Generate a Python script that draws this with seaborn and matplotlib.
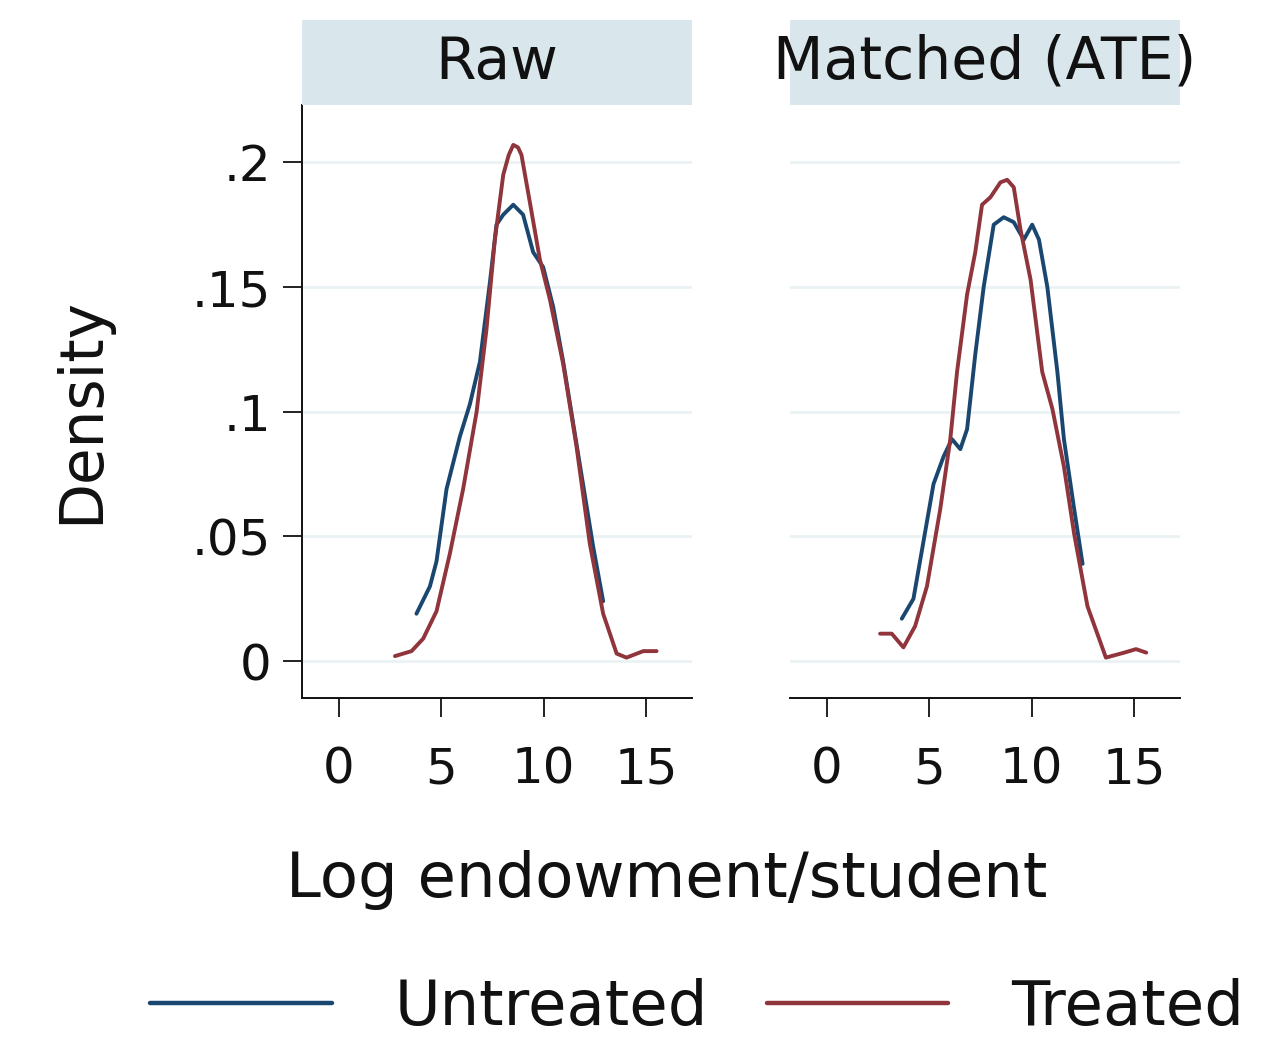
import pandas as pd
import matplotlib
matplotlib.use('Agg')
import matplotlib.pyplot as plt
from matplotlib.lines import Line2D
import seaborn as sns

# Curve points (log endowment/student vs density)
raw_untreated_x = [3.79, 4.45, 4.77, 5.26, 5.91, 6.40, 6.89, 7.38, 7.70, 8.03, 8.52, 9.00, 9.49, 9.98, 10.47, 10.96, 11.61, 12.42, 12.91]
raw_untreated_y = [0.019, 0.030, 0.040, 0.069, 0.090, 0.103, 0.120, 0.152, 0.175, 0.179, 0.183, 0.179, 0.164, 0.158, 0.142, 0.120, 0.087, 0.046, 0.024]

raw_treated_x = [2.74, 3.55, 4.12, 4.77, 5.42, 6.07, 6.73, 7.21, 7.62, 8.03, 8.30, 8.52, 8.75, 8.92, 9.33, 9.82, 10.31, 10.96, 11.61, 12.26, 12.91, 13.57, 14.05, 14.87, 15.52]
raw_treated_y = [0.002, 0.004, 0.009, 0.020, 0.043, 0.069, 0.100, 0.133, 0.169, 0.195, 0.203, 0.207, 0.206, 0.203, 0.184, 0.161, 0.145, 0.119, 0.086, 0.047, 0.019, 0.003, 0.0014, 0.004, 0.004]

ate_untreated_x = [3.66, 4.23, 4.72, 5.21, 5.70, 6.11, 6.52, 6.85, 7.25, 7.66, 8.15, 8.64, 9.13, 9.62, 10.03, 10.36, 10.77, 11.26, 11.58, 12.08, 12.49]
ate_untreated_y = [0.017, 0.025, 0.048, 0.071, 0.082, 0.089, 0.085, 0.093, 0.123, 0.150, 0.175, 0.178, 0.176, 0.169, 0.175, 0.169, 0.150, 0.116, 0.089, 0.061, 0.039]

ate_treated_x = [2.60, 3.17, 3.74, 4.31, 4.89, 5.54, 6.03, 6.36, 6.85, 7.25, 7.58, 7.99, 8.48, 8.81, 9.13, 9.46, 9.95, 10.52, 11.02, 11.58, 12.08, 12.73, 13.63, 14.53, 15.10, 15.60]
ate_treated_y = [0.011, 0.011, 0.0055, 0.014, 0.030, 0.061, 0.089, 0.116, 0.147, 0.164, 0.183, 0.186, 0.192, 0.193, 0.190, 0.173, 0.153, 0.116, 0.101, 0.078, 0.051, 0.022, 0.0014, 0.0034, 0.0048, 0.0034]

panels = ['Raw', 'Matched (ATE)']
groups = ['Untreated', 'Treated']
y_ticks = [0, 0.05, 0.1, 0.15, 0.2]
y_labels = ['0', '.05', '.1', '.15', '.2']
x_ticks = [0, 5, 10, 15]

def frame(panel, group, xs, ys):
    return pd.DataFrame({'panel': panel, 'group': group, 'x': xs, 'y': ys})

df = pd.concat([
    frame('Raw', 'Untreated', raw_untreated_x, raw_untreated_y),
    frame('Raw', 'Treated', raw_treated_x, raw_treated_y),
    frame('Matched (ATE)', 'Untreated', ate_untreated_x, ate_untreated_y),
    frame('Matched (ATE)', 'Treated', ate_treated_x, ate_treated_y),
])

colors = {'Untreated': '#1a476f', 'Treated': '#90353b'}
grid_col = '#eaf2f3'
strip_col = '#d9e6eb'
ink = '#111111'

sns.set_style('white')
plt.rcParams['font.family'] = ['DejaVu Sans']
plt.rcParams['text.color'] = ink

fig = plt.figure(figsize=(12.72, 10.47), dpi=100)
W, H = 1272, 1047
lefts = [302, 790]
pw = 390
top_px, bot_px = 105, 698

for i, panel in enumerate(panels):
    x0 = lefts[i]
    ax = fig.add_axes([x0 / W, 1 - bot_px / H, pw / W, (bot_px - top_px) / H])
    sub = df[df['panel'] == panel]
    sns.lineplot(data=sub, x='x', y='y', hue='group', palette=colors,
                 hue_order=groups, estimator=None, sort=True, lw=2.8,
                 legend=False, ax=ax)
    ax.set_xlim(-1.8, 17.25)
    ax.set_ylim(-0.0148, 0.223)
    for t in y_ticks:
        ax.axhline(t, color=grid_col, lw=2, zorder=0)
    ax.set_xticks(x_ticks)
    ax.set_xticklabels([str(t) for t in x_ticks])
    ax.set_yticks(y_ticks)
    ax.tick_params(axis='x', bottom=True, length=14, width=1.3, pad=20,
                   labelsize=36, color=ink, labelcolor=ink)
    ax.tick_params(axis='y', left=True, length=14, width=1.3, pad=8,
                   labelsize=36, color=ink, labelcolor=ink)
    ax.set_xlabel('')
    ax.set_ylabel('')
    for s in ['top', 'right']:
        ax.spines[s].set_visible(False)
    ax.spines['bottom'].set_linewidth(1.4)
    ax.spines['bottom'].set_color(ink)
    if i == 0:
        ax.set_yticklabels(y_labels)
        ax.spines['left'].set_linewidth(1.4)
        ax.spines['left'].set_color(ink)
    else:
        ax.spines['left'].set_visible(False)
        ax.tick_params(axis='y', left=False, labelleft=False)
    # strip header
    sax = fig.add_axes([x0 / W, 1 - 105 / H, pw / W, 85 / H])
    sax.set_facecolor(strip_col)
    sax.set_xticks([])
    sax.set_yticks([])
    for s in sax.spines.values():
        s.set_visible(False)
    sax.text(0.5, 0.5, panel, ha='center', va='center', fontsize=42, transform=sax.transAxes)

fig.text(82 / W, 1 - 411 / H, 'Density', rotation=90, ha='center', va='center', fontsize=43)
fig.text(667 / W, 1 - 880 / H, 'Log endowment/student', ha='center', va='center', fontsize=45)

handles = [Line2D([0], [0], color=colors[g], lw=3.2) for g in groups]
fig.legend(handles, groups, loc='center', bbox_to_anchor=(697 / W, 1 - 1008 / H),
           ncol=2, frameon=False, fontsize=45, handlelength=2.9,
           handletextpad=1.0, columnspacing=0.95, labelcolor=ink)

fig.savefig('out.png', dpi=100, facecolor='white')
